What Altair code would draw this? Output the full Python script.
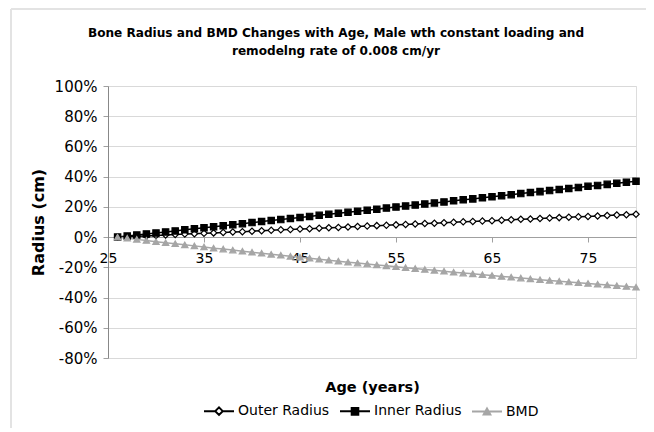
import altair as alt
import pandas as pd

ages = list(range(26, 81))
outer_radius = [0.0, 0.3, 0.6, 0.8, 1.1, 1.4, 1.7, 2.0, 2.2, 2.5, 2.8, 3.1, 3.4, 3.6, 3.9,
                4.2, 4.5, 4.8, 5.0, 5.3, 5.6, 5.9, 6.2, 6.4, 6.7, 7.0, 7.3, 7.6, 7.8, 8.1,
                8.4, 8.7, 9.0, 9.2, 9.5, 9.8, 10.1, 10.4, 10.6, 10.9, 11.2, 11.5, 11.8, 12.0,
                12.3, 12.6, 12.9, 13.2, 13.4, 13.7, 14.0, 14.3, 14.6, 14.8, 15.1]
inner_radius = [0.0, 0.7, 1.4, 2.1, 2.7, 3.4, 4.1, 4.8, 5.5, 6.2, 6.9, 7.5, 8.2, 8.9, 9.6,
                10.3, 11.0, 11.6, 12.3, 13.0, 13.7, 14.4, 15.1, 15.8, 16.4, 17.1, 17.8, 18.5,
                19.2, 19.9, 20.6, 21.2, 21.9, 22.6, 23.3, 24.0, 24.7, 25.3, 26.0, 26.7, 27.4,
                28.1, 28.8, 29.5, 30.1, 30.8, 31.5, 32.2, 32.9, 33.6, 34.2, 34.9, 35.6, 36.3, 37.0]
bmd = [0.0, -0.7, -1.5, -2.2, -3.0, -3.7, -4.4, -5.1, -5.8, -6.5, -7.3, -7.9, -8.6, -9.3,
       -10.0, -10.7, -11.4, -12.0, -12.7, -13.3, -14.0, -14.6, -15.3, -15.9, -16.6, -17.2,
       -17.8, -18.4, -19.0, -19.6, -20.2, -20.8, -21.4, -22.0, -22.6, -23.2, -23.8, -24.3,
       -24.9, -25.4, -26.0, -26.5, -27.1, -27.6, -28.2, -28.7, -29.2, -29.7, -30.2, -30.7,
       -31.2, -31.7, -32.2, -32.7, -33.2]

series_names = ["Outer Radius", "Inner Radius", "BMD"]
x_ticks = [25, 35, 45, 55, 65, 75]
y_ticks = [-80, -60, -40, -20, 0, 20, 40, 60, 80, 100]

rows = []
for name, vals in zip(series_names, [outer_radius, inner_radius, bmd]):
    for a, v in zip(ages, vals):
        rows.append({"age": a, "value": v, "series": name})
df = pd.DataFrame(rows)

FONT = "DejaVu Sans"
line_colors = ["#000000", "#000000", "#a6a6a6"]
fill_colors = ["#ffffff", "#000000", "#a6a6a6"]
stroke_colors = ["#000000", "#000000", "#a6a6a6"]

x_enc = alt.X("age:Q", scale=alt.Scale(domain=[25, 80], nice=False, zero=False),
              axis=alt.Axis(values=x_ticks, title="Age (years)", offset=-121, grid=False,
                            domainColor="#a0a0a0", tickColor="#a0a0a0", tickSize=5,
                            labelFontSize=14, labelFont=FONT, labelColor="#000000",
                            labelPadding=9, labelFlush=False, labelOverlap=False,
                            titleFont=FONT, titleFontSize=14.5,
                            titleFontWeight="bold", titleColor="#000000",
                            titleY=150, titleBaseline="middle"))
y_enc = alt.Y("value:Q", scale=alt.Scale(domain=[-80, 100], nice=False),
              axis=alt.Axis(values=y_ticks, title="Radius (cm)", labelExpr="datum.value + '%'",
                            grid=True, gridColor="#d9d9d9", domainColor="#888888",
                            tickColor="#a0a0a0", tickSize=5, labelPadding=6,
                            labelFontSize=15, labelFont=FONT, labelColor="#000000",
                            titleFont=FONT, titleFontSize=16, titleFontWeight="bold",
                            titleColor="#000000", titleX=-70, titleY=136,
                            titleAngle=270, titleBaseline="middle", titleAlign="center"))

lines = alt.Chart(df).mark_line(strokeWidth=1.5).encode(
    x=x_enc, y=y_enc,
    color=alt.Color("series:N", scale=alt.Scale(domain=series_names, range=line_colors), legend=None),
)

points = alt.Chart(df).mark_point(opacity=1, strokeWidth=1.2, size=40).encode(
    x=x_enc, y=y_enc,
    shape=alt.Shape("series:N", scale=alt.Scale(domain=series_names,
                                                range=["diamond", "square", "triangle-up"]), legend=None),
    fill=alt.Fill("series:N", scale=alt.Scale(domain=series_names, range=fill_colors), legend=None),
    stroke=alt.Stroke("series:N", scale=alt.Scale(domain=series_names, range=stroke_colors), legend=None),
)

legend_paths = [
    "M-1,0H-0.25M0.25,0H1M-0.25,0L0,-0.25L0.25,0L0,0.25Z",
    "M-1,0H1M-0.22,-0.22H0.22V0.22H-0.22Z",
    "M-1,0H1M-0.22,0.2L0,-0.2L0.22,0.2Z",
]
legend_cfg = alt.Legend(title=None, orient="none", legendX=95, legendY=309, direction="horizontal",
                        symbolSize=900, symbolStrokeWidth=2, labelFont=FONT, labelFontSize=14,
                        labelColor="#000000", columnPadding=6, labelOffset=3, symbolOpacity=1)
legend_layer = alt.Chart(df).transform_filter("datum.age < 0").mark_point(opacity=1, strokeWidth=2).encode(
    x=x_enc, y=y_enc,
    shape=alt.Shape("series:N", scale=alt.Scale(domain=series_names, range=legend_paths), legend=legend_cfg),
    fill=alt.Fill("series:N", scale=alt.Scale(domain=series_names, range=fill_colors), legend=legend_cfg),
    stroke=alt.Stroke("series:N", scale=alt.Scale(domain=series_names, range=stroke_colors), legend=legend_cfg),
)

frame_top = alt.Chart(df).mark_rule(color="#e3e3e3", strokeWidth=2).encode(
    x=alt.value(-97), x2=alt.value(660), y=alt.value(-77))
frame_left = alt.Chart(df).mark_rule(color="#e3e3e3", strokeWidth=2).encode(
    x=alt.value(-97), y=alt.value(-77), y2=alt.value(400))

chart = alt.layer(frame_top, frame_left, lines, points, legend_layer).resolve_scale(
    shape="independent", fill="independent", stroke="independent"
).properties(
    width=528, height=272,
    title=alt.TitleParams(
        text=["Bone Radius and BMD Changes with Age, Male wth constant loading and",
              "remodelng rate of 0.008 cm/yr"],
        anchor="middle", dx=-36, fontSize=12.1, font=FONT, fontWeight="bold",
        color="#000000", lineHeight=18, offset=-49),
    autosize=alt.AutoSizeParams(type="none"),
    padding={"left": 100, "top": 78, "right": 10, "bottom": 70},
).configure_view(stroke="#888888", strokeWidth=1).configure(background="#ffffff")

chart.save("out.html", embed_options={"renderer": "svg", "actions": False})
